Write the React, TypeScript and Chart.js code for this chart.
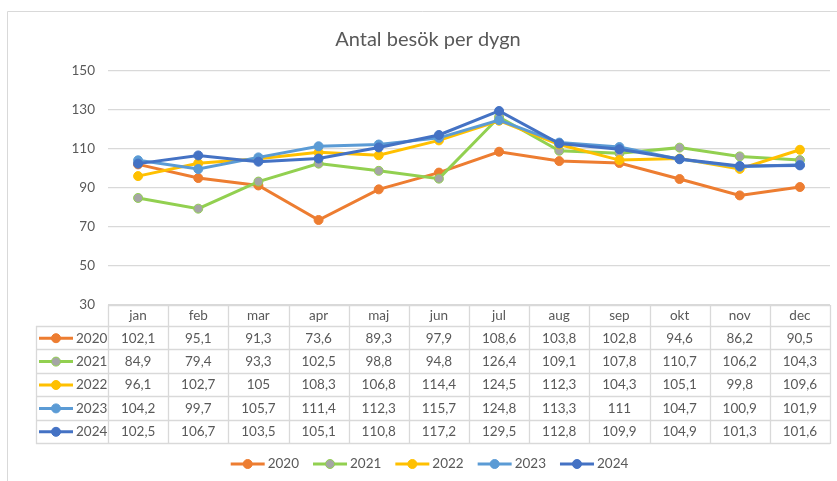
import React, { useEffect, useRef } from "react";
import { Chart, registerables } from "chart.js";

Chart.register(...registerables);

const chartTitle = "Antal besök per dygn";
const months = ["jan", "feb", "mar", "apr", "maj", "jun", "jul", "aug", "sep", "okt", "nov", "dec"];
const years = ["2020", "2021", "2022", "2023", "2024"];
const v2020 = [102.1, 95.1, 91.3, 73.6, 89.3, 97.9, 108.6, 103.8, 102.8, 94.6, 86.2, 90.5];
const v2021 = [84.9, 79.4, 93.3, 102.5, 98.8, 94.8, 126.4, 109.1, 107.8, 110.7, 106.2, 104.3];
const v2022 = [96.1, 102.7, 105, 108.3, 106.8, 114.4, 124.5, 112.3, 104.3, 105.1, 99.8, 109.6];
const v2023 = [104.2, 99.7, 105.7, 111.4, 112.3, 115.7, 124.8, 113.3, 111, 104.7, 100.9, 101.9];
const v2024 = [102.5, 106.7, 103.5, 105.1, 110.8, 117.2, 129.5, 112.8, 109.9, 104.9, 101.3, 101.6];
const yMin = 30;
const yMax = 150;
const yStep = 20;

const seriesValues = [v2020, v2021, v2022, v2023, v2024];
const lineColors = ["#ED7D31", "#92D050", "#FFC000", "#5B9BD5", "#4472C4"];
const markerFill = ["#ED7D31", "#A5A5A5", "#FFC000", "#5B9BD5", "#4472C4"];

const FONT = "Lato, 'Liberation Sans', sans-serif";
const TEXT = "#595959";
const GRID = "#D9D9D9";
const FS = 13.5;

const fmt = (v: number) => String(v).replace(".", ",");

function drawKey(ctx: CanvasRenderingContext2D, x0: number, x1: number, y: number, i: number) {
  ctx.strokeStyle = lineColors[i];
  ctx.lineWidth = 3;
  ctx.lineCap = "butt";
  ctx.beginPath();
  ctx.moveTo(x0, y);
  ctx.lineTo(x1, y);
  ctx.stroke();
  ctx.beginPath();
  ctx.arc((x0 + x1) / 2, y, 4.5, 0, Math.PI * 2);
  ctx.fillStyle = markerFill[i];
  ctx.fill();
  ctx.lineWidth = 1;
  ctx.strokeStyle = lineColors[i];
  ctx.stroke();
}

const decorPlugin = {
  id: "decor",
  afterDraw(chart: any) {
    const ctx: CanvasRenderingContext2D = chart.ctx;
    const area = chart.chartArea;
    const xs = chart.scales.x;
    ctx.save();

    // chart frame
    ctx.strokeStyle = GRID;
    ctx.lineWidth = 1;
    ctx.beginPath();
    ctx.moveTo(7.5, 481);
    ctx.lineTo(7.5, 11.5);
    ctx.lineTo(837, 11.5);
    ctx.stroke();

    // title
    ctx.fillStyle = TEXT;
    ctx.font = `20px ${FONT}`;
    ctx.textAlign = "center";
    ctx.textBaseline = "middle";
    ctx.fillText(chartTitle, 428, 40);

    // data table
    const colW = (area.right - area.left) / months.length;
    const top = Math.round(area.bottom);
    const headBottom = top + 21;
    const rowH = 23.4;
    const tableBottom = headBottom + rowH * years.length;
    const tLeft = 36;
    const left = Math.round(area.left);
    const right = Math.round(area.right);

    ctx.strokeStyle = GRID;
    ctx.lineWidth = 1.3;
    ctx.beginPath();
    ctx.moveTo(left, top + 0.5);
    ctx.lineTo(right, top + 0.5);
    for (let r = 0; r <= years.length; r++) {
      const y = Math.round(headBottom + rowH * r) + 0.5;
      ctx.moveTo(tLeft, y);
      ctx.lineTo(right, y);
    }
    ctx.moveTo(tLeft + 0.5, headBottom);
    ctx.lineTo(tLeft + 0.5, tableBottom + 1);
    for (let c = 0; c <= months.length; c++) {
      const x = Math.round(left + colW * c) + 0.5;
      ctx.moveTo(x, top);
      ctx.lineTo(x, tableBottom + 1);
    }
    ctx.stroke();

    ctx.font = `${FS}px ${FONT}`;
    ctx.fillStyle = TEXT;
    ctx.textBaseline = "middle";
    ctx.textAlign = "center";
    months.forEach((m, c) => {
      ctx.fillText(m, xs.getPixelForValue(c), top + 11);
    });
    seriesValues.forEach((vals, r) => {
      const yc = headBottom + rowH * r + rowH / 2 + 0.5;
      ctx.textAlign = "center";
      ctx.fillStyle = TEXT;
      vals.forEach((v, c) => {
        ctx.fillText(fmt(v), xs.getPixelForValue(c), yc);
      });
      drawKey(ctx, 39, 73, yc, r);
      ctx.fillStyle = TEXT;
      ctx.textAlign = "left";
      ctx.font = `${FS}px ${FONT}`;
      ctx.fillText(years[r], 76, yc);
    });

    // bottom legend
    const ly = 464;
    const keyW = 34;
    const gapTxt = 3;
    const gapItem = 14;
    const widths = years.map((y) => keyW + gapTxt + ctx.measureText(y).width);
    const total = widths.reduce((a, b) => a + b, 0) + gapItem * (years.length - 1);
    let x = 429.5 - total / 2;
    years.forEach((y, i) => {
      drawKey(ctx, x, x + keyW, ly, i);
      ctx.fillStyle = TEXT;
      ctx.textAlign = "left";
      ctx.font = `${FS}px ${FONT}`;
      ctx.fillText(y, x + keyW + gapTxt, ly);
      x += widths[i] + gapItem;
    });

    ctx.restore();
  },
};

export default function App() {
  const ref = useRef<HTMLCanvasElement | null>(null);
  useEffect(() => {
    if (!ref.current) return;
    const chart = new Chart(ref.current, {
      type: "line",
      data: {
        labels: months,
        datasets: seriesValues.map((vals, i) => ({
          label: years[i],
          data: vals,
          borderColor: lineColors[i],
          backgroundColor: lineColors[i],
          borderWidth: 3,
          pointRadius: 4.5,
          pointBorderWidth: 1,
          pointBackgroundColor: markerFill[i],
          pointBorderColor: lineColors[i],
          tension: 0,
          order: seriesValues.length - i,
        })),
      },
      options: {
        responsive: false,
        animation: false,
        layout: { padding: { top: 71, bottom: 176, right: 7, left: 0 } },
        plugins: {
          legend: { display: false },
          title: { display: false },
          tooltip: { enabled: false },
        },
        scales: {
          x: {
            type: "category",
            offset: true,
            display: false,
          },
          y: {
            min: yMin,
            max: yMax,
            afterFit: (s: any) => {
              s.width = 108;
            },
            ticks: {
              stepSize: yStep,
              color: TEXT,
              padding: 13,
              font: { family: FONT, size: FS },
            },
            grid: { color: GRID, lineWidth: 1.3, drawTicks: false },
            border: { display: false },
          },
        },
      },
      plugins: [decorPlugin],
    });
    return () => chart.destroy();
  }, []);
  return (
    <div style={{ position: "absolute", left: 0, top: 0, width: 837, height: 481, background: "#fff" }}>
      <canvas ref={ref} width={837} height={481} style={{ display: "block" }} />
    </div>
  );
}
